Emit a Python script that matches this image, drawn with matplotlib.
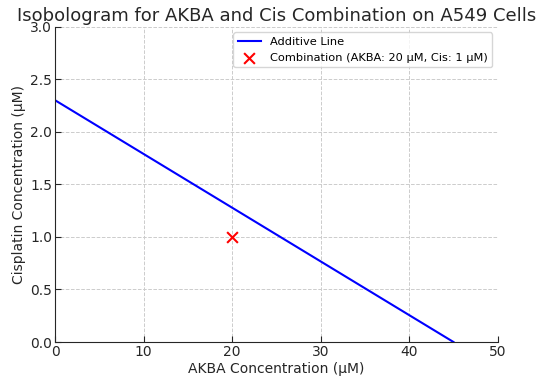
import matplotlib
matplotlib.use('Agg')
import matplotlib.pyplot as plt

# additive line endpoints (IC50 of each drug alone)
akba_line = [0, 45]
cis_line = [2.3, 0]

# combination point
combo_akba = [20]
combo_cis = [1]

fig, ax = plt.subplots(figsize=(5.5, 3.8), dpi=100)
ax.plot(akba_line, cis_line, color='blue', lw=1.5, label='Additive Line')
ax.scatter(combo_akba, combo_cis, color='red', marker='x', s=60, lw=1.5,
           label='Combination (AKBA: 20 µM, Cis: 1 µM)', zorder=3)

ax.set_xlim(0, 50)
ax.set_ylim(0, 3)
ax.set_title('Isobologram for AKBA and Cis Combination on A549 Cells', fontsize=13, color='#262626', pad=4)
ax.set_xlabel('AKBA Concentration (µM)', fontsize=10, color='#262626', labelpad=2)
ax.set_ylabel('Cisplatin Concentration (µM)', fontsize=10, color='#262626', labelpad=3)
ax.grid(True, linestyle='--', color='#cccccc', lw=0.7)
ax.set_axisbelow(True)
for s in ['top', 'right']:
    ax.spines[s].set_visible(False)
ax.spines['left'].set_color('#262626')
ax.spines['bottom'].set_color('#262626')
ax.tick_params(direction='in', length=4, pad=2, labelsize=10, colors='#262626')
ax.legend(loc='upper right', fontsize=8.2, framealpha=0.8)

fig.subplots_adjust(left=0.1, right=0.905, top=0.93, bottom=0.1)
fig.savefig('out.png')
